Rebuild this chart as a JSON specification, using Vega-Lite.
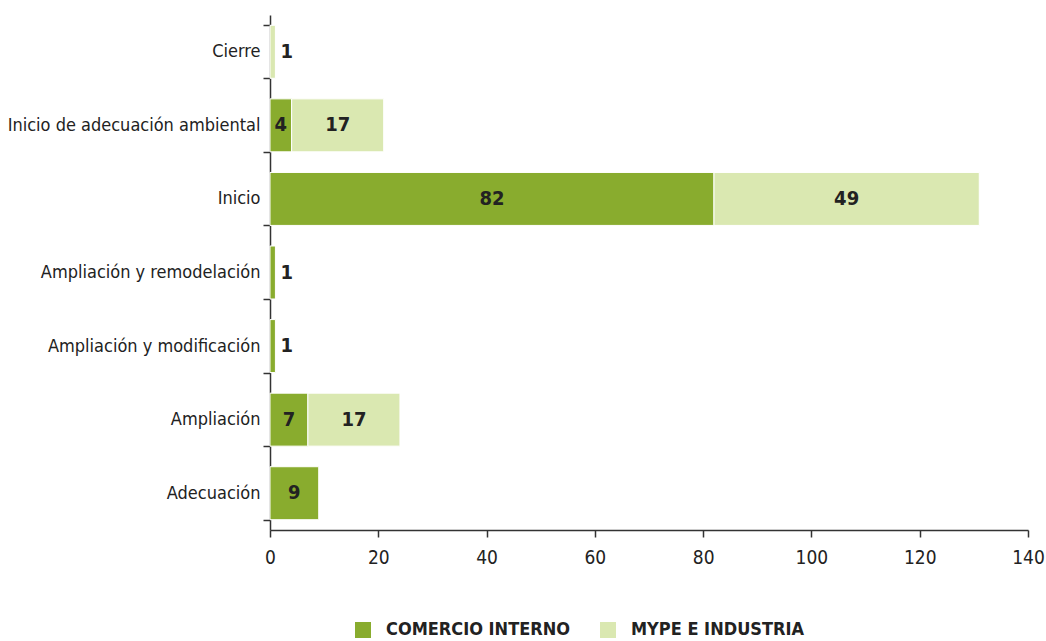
{
  "$schema": "https://vega.github.io/schema/vega-lite/v6.json",
  "width": 758,
  "height": 515,
  "autosize": {"type": "none"},
  "padding": {"left": 270, "top": 15, "right": 18, "bottom": 111},
  "background": "white",
  "config": {
    "view": {"stroke": null},
    "font": "DejaVu Sans Condensed, sans-serif"
  },
  "data": {
    "values": [
      {"tipo": "Cierre", "serie": "MYPE E INDUSTRIA", "orden": 2, "valor": 1},
      {"tipo": "Inicio de adecuación ambiental", "serie": "COMERCIO INTERNO", "orden": 1, "valor": 4},
      {"tipo": "Inicio de adecuación ambiental", "serie": "MYPE E INDUSTRIA", "orden": 2, "valor": 17},
      {"tipo": "Inicio", "serie": "COMERCIO INTERNO", "orden": 1, "valor": 82},
      {"tipo": "Inicio", "serie": "MYPE E INDUSTRIA", "orden": 2, "valor": 49},
      {"tipo": "Ampliación y remodelación", "serie": "COMERCIO INTERNO", "orden": 1, "valor": 1},
      {"tipo": "Ampliación y modificación", "serie": "COMERCIO INTERNO", "orden": 1, "valor": 1},
      {"tipo": "Ampliación", "serie": "COMERCIO INTERNO", "orden": 1, "valor": 7},
      {"tipo": "Ampliación", "serie": "MYPE E INDUSTRIA", "orden": 2, "valor": 17},
      {"tipo": "Adecuación", "serie": "COMERCIO INTERNO", "orden": 1, "valor": 9}
    ]
  },
  "encoding": {
    "y": {
      "field": "tipo",
      "type": "nominal",
      "sort": ["Cierre", "Inicio de adecuación ambiental", "Inicio", "Ampliación y remodelación", "Ampliación y modificación", "Ampliación", "Adecuación"],
      "scale": {"paddingInner": 0.28, "paddingOuter": 0.14},
      "axis": {
        "title": null,
        "domainColor": "#333333",
        "domainWidth": 1.5,
        "tickColor": "#333333",
        "tickWidth": 1.5,
        "tickSize": 7,
        "tickBand": "extent",
        "labelFontSize": 18,
        "labelColor": "#222222",
        "labelPadding": 3,
        "labelLimit": 0
      }
    }
  },
  "layer": [
    {
      "mark": {"type": "bar", "stroke": "white", "strokeWidth": 1},
      "encoding": {
        "x": {
          "field": "valor",
          "type": "quantitative",
          "stack": "zero",
          "scale": {"domain": [0, 140], "nice": false},
          "axis": {
            "title": null,
            "values": [0, 20, 40, 60, 80, 100, 120, 140],
            "grid": false,
            "labelFlush": false,
            "domainColor": "#333333",
            "domainWidth": 1.5,
            "tickColor": "#333333",
            "tickWidth": 1.5,
            "tickSize": 7,
            "labelFontSize": 19,
            "labelColor": "#222222",
            "labelPadding": 11
          }
        },
        "color": {
          "field": "serie",
          "type": "nominal",
          "scale": {"domain": ["COMERCIO INTERNO", "MYPE E INDUSTRIA"], "range": ["#89AC2E", "#DAE8B1"]},
          "legend": {
            "title": null,
            "orient": "none",
            "direction": "horizontal",
            "legendX": 84,
            "legendY": 606,
            "symbolType": "square",
            "symbolSize": 256,
            "symbolStrokeWidth": 0,
            "labelFontSize": 18,
            "labelFontWeight": "bold",
            "labelColor": "#222222",
            "labelOffset": 14,
            "labelLimit": 0,
            "columnPadding": 28
          }
        },
        "order": {"field": "orden"}
      }
    },
    {
      "transform": [
        {"stack": "valor", "groupby": ["tipo"], "sort": [{"field": "orden"}], "as": ["x0", "x1"]},
        {"calculate": "(datum.x0 + datum.x1) / 2", "as": "xm"},
        {"filter": "datum.valor >= 3"}
      ],
      "mark": {"type": "text", "fontSize": 20, "fontWeight": "bold", "color": "#222222", "align": "center", "baseline": "middle"},
      "encoding": {
        "x": {"field": "xm", "type": "quantitative"},
        "text": {"field": "valor", "type": "quantitative"}
      }
    },
    {
      "transform": [
        {"stack": "valor", "groupby": ["tipo"], "sort": [{"field": "orden"}], "as": ["x0", "x1"]},
        {"filter": "datum.valor < 3"}
      ],
      "mark": {"type": "text", "fontSize": 20, "fontWeight": "bold", "color": "#222222", "align": "left", "baseline": "middle", "dx": 5},
      "encoding": {
        "x": {"field": "x1", "type": "quantitative"},
        "text": {"field": "valor", "type": "quantitative"}
      }
    }
  ]
}
